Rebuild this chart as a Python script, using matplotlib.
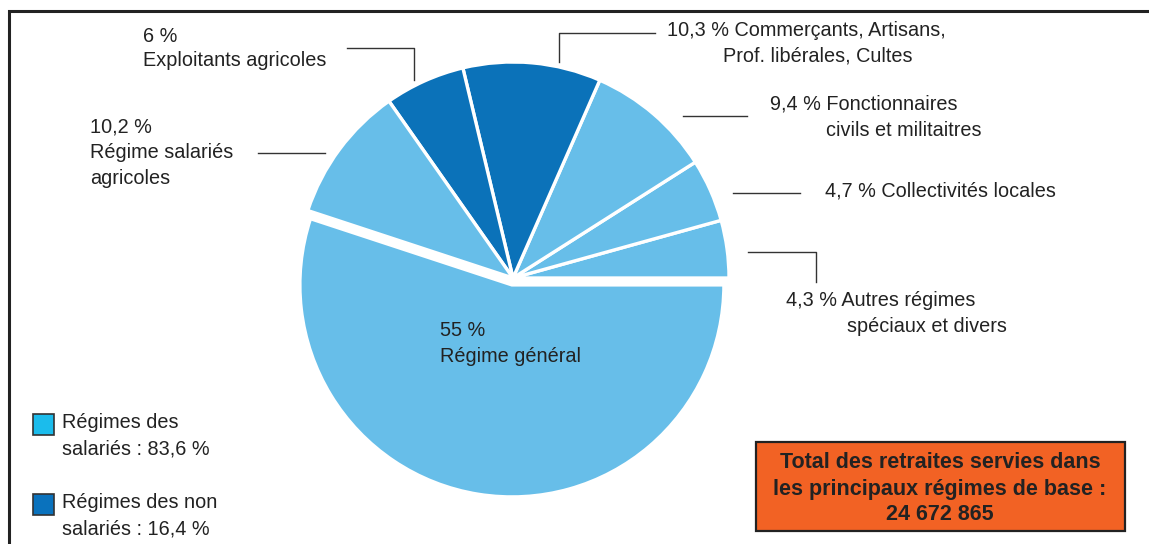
import matplotlib
matplotlib.use('Agg')
import matplotlib.pyplot as plt
from matplotlib.patches import Rectangle

# pie data, counterclockwise from 3 o'clock
values = [4.3, 4.7, 9.4, 10.3, 6.0, 10.2, 55.0]
names = ['Autres régimes spéciaux et divers', 'Collectivités locales',
         'Fonctionnaires civils et militaitres',
         'Commerçants, Artisans, Prof. libérales, Cultes',
         'Exploitants agricoles', 'Régime salariés agricoles', 'Régime général']
salaried = [True, True, True, False, False, True, True]

legend_labels = [['Régimes des', 'salariés : 83,6 %'],
                 ['Régimes des non', 'salariés : 16,4 %']]
total_lines = ['Total des retraites servies dans',
               'les principaux régimes de base :', '24 672 865']

LIGHT = '#67bee9'
DARK = '#0b72b9'
TXT = '#222222'
H = 544

def Y(y):
    # pixel row -> data y
    return H - y

fig = plt.figure(figsize=(11.49, 5.44), dpi=100)
ax = fig.add_axes([0, 0, 1, 1])
plt.rcParams['font.family'] = ['Liberation Sans', 'DejaVu Sans']

colors = [LIGHT if s else DARK for s in salaried]
# explode is in data units (pixels here)
explode = [0, 0, 0, 0, 0, 0, 7]
wedges, _ = ax.pie(values, colors=colors, startangle=0, counterclock=True,
                   center=(513, Y(278)), radius=216, explode=explode,
                   wedgeprops=dict(edgecolor='white', linewidth=2.4))
wedges[-1].set_radius(212)

ax.set_xlim(0, 1149)
ax.set_ylim(0, H)
ax.set_aspect('auto')
ax.axis('off')

# frame (left and top only)
ax.plot([9, 9, 1149], [Y(544), Y(11), Y(11)], color=TXT, lw=2.2,
        solid_capstyle='butt', solid_joinstyle='miter')

# leader lines
leaders = [
    ([347, 414, 414], [48, 48, 80]),
    ([559, 559, 655], [62, 33, 33]),
    ([258, 325], [153, 153]),
    ([683, 747], [116, 116]),
    ([733, 800], [193, 193]),
    ([748, 816, 816], [252, 252, 282]),
]
for xs, ys in leaders:
    ax.plot(xs, [Y(v) for v in ys], color='#333333', lw=1.0)

fs = 14.3
# labels: (x, y center, text)
labels = [
    (143, 36, '6 %'), (143, 61, 'Exploitants agricoles'),
    (90, 127, '10,2 %'), (90, 153, 'Régime salariés'), (90, 179, 'agricoles'),
    (667, 30, '10,3 % Commerçants, Artisans,'), (723, 56, 'Prof. libérales, Cultes'),
    (770, 104, '9,4 % Fonctionnaires'), (826, 130, 'civils et militaitres'),
    (825, 191, '4,7 % Collectivités locales'),
    (786, 301, '4,3 % Autres régimes'), (847, 327, 'spéciaux et divers'),
    (440, 331, '55 %'), (440, 357, 'Régime général'),
]
for x, y, t in labels:
    ax.text(x, Y(y), t, fontsize=fs, color=TXT, ha='left', va='center')

# legend
swatches = ['#1bbcec', '#0a72bd']
for i, (lines, c) in enumerate(zip(legend_labels, swatches)):
    top = 414 + i * 80
    ax.add_patch(Rectangle((33, Y(top + 21)), 21, 21, facecolor=c,
                           edgecolor='#333333', lw=1.2))
    for j, t in enumerate(lines):
        ax.text(62, Y(top + 9 + j * 26), t, fontsize=fs, color=TXT,
                ha='left', va='center')

# total box
ax.add_patch(Rectangle((756, Y(531)), 369, 89, facecolor='#f26224',
                       edgecolor='#222222', lw=1.6))
for j, t in enumerate(total_lines):
    ax.text(940, Y(463 + j * 26), t, fontsize=15.5, fontweight='bold',
            color=TXT, ha='center', va='center')

fig.savefig('out.png', dpi=100)
